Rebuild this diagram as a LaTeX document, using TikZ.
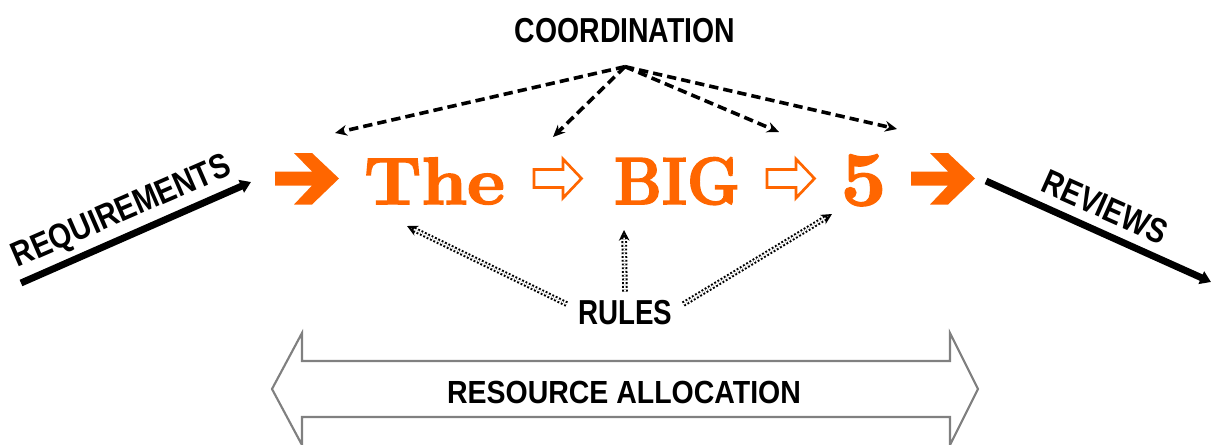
\documentclass[tikz,border=0pt]{standalone}
\usepackage{fontspec}
\setsansfont{Liberation Sans}
\newfontfamily\bigfont{Latin Modern Roman}[BoldFeatures={FakeBold=2.5}]
\usetikzlibrary{arrows.meta, positioning, calc}
\definecolor{bigorange}{RGB}{255, 102, 0}
\definecolor{allocgray}{RGB}{128, 128, 128}

\begin{document}
\begin{tikzpicture}[x=0.75pt, y=-0.75pt,
    caps/.style={font=\sffamily\bfseries\fontsize{26}{26}\selectfont, inner sep=2pt, anchor=base},
    word/.style={font=\bigfont\bfseries\fontsize{50}{50}\selectfont, text=bigorange, anchor=base, inner sep=0pt},
    coordarrow/.style={-{Stealth[length=9pt,width=8pt]}, line width=2.7pt, dash pattern=on 7pt off 3.8pt},
    rulearrow/.style={-{Stealth[open,length=8pt,width=8pt]}, line width=1.5pt, double=white, double distance=1.2pt, dash pattern=on 1.4pt off 1.4pt},
    flowarrow/.style={-{Triangle[length=8pt,width=10pt]}, line width=5.2pt},
    solidhead/.style={fill=bigorange},
    hollowhead/.style={draw=bigorange, line width=2pt},
  ]
  \useasboundingbox (0,0) rectangle (1212,444);

  % Labels
  \node[caps, xscale=0.82] (coord) at (625,42) {COORDINATION};
  \node[caps, xscale=0.8] (rules) at (625,324) {RULES};
  \node[caps, font=\sffamily\bfseries\fontsize{24}{24}\selectfont, xscale=0.89] (alloc) at (624,403) {RESOURCE ALLOCATION};
  \node[caps, rotate=23.5, xscale=0.84, anchor=center] (req) at (122,213) {REQUIREMENTS};
  \node[caps, rotate=-24, xscale=0.83, anchor=center] (rev) at (1105,207) {REVIEWS};

  % The BIG 5
  \node[word, xscale=1.1] (the) at (434.5,204) {The};
  \node[word, xscale=0.9] (big) at (677,204) {BIG};
  \node[word, xscale=1.2, yscale=1.15] (five) at (863.5,205) {5};

  % Orange arrows
  \foreach \x in {275,911}
    \fill[solidhead, shift={(\x,0)}] (0,171.5) -- (37,171.5) -- (19,153) -- (37,153) -- (64,178.5)
      -- (37,204.5) -- (19,204.5) -- (37,185.5) -- (0,185.5) -- cycle;
  \foreach \x in {0,233}
    \draw[hollowhead, shift={(\x,0)}] (534,169.5) -- (563,169.5) -- (563,159) -- (581.5,178.5)
      -- (563,198) -- (563,187.5) -- (534,187.5) -- cycle;

  % Coordination
  \coordinate (hub) at ([yshift=-18.5pt]coord.base);
  \coordinate (c1) at (335,133);
  \coordinate (c2) at (553,137);
  \coordinate (c3) at (779,132);
  \coordinate (c4) at (897,129);
  \foreach \t in {c1,c2,c3,c4}
    \draw[coordarrow] (hub) -- (\t);

  % Rules
  \coordinate (r1) at (407,226);
  \coordinate (r2) at (624,230);
  \coordinate (r3) at (832,214);
  \draw[rulearrow] ([shift={(-9,-8)}]rules.west) -- (r1);
  \draw[rulearrow] ([yshift=4pt]rules.north) -- (r2);
  \draw[rulearrow] ([shift={(9,-8)}]rules.east) -- (r3);

  % Requirements and reviews
  \coordinate (reqtail) at (21,283);
  \coordinate (reqtip) at (251,182);
  \coordinate (revtail) at (986,181);
  \coordinate (revtip) at (1211,282);
  \draw[flowarrow] (reqtail) -- (reqtip);
  \draw[flowarrow] (revtail) -- (revtip);

  % Resource allocation
  \draw[allocgray, line width=1.6pt, line join=miter]
    (302,361) -- (950,361) -- (950,333) -- (978,389) -- (950,445) -- (950,417)
    -- (302,417) -- (302,445) -- (272,389) -- (302,333) -- cycle;
\end{tikzpicture}
\end{document}
